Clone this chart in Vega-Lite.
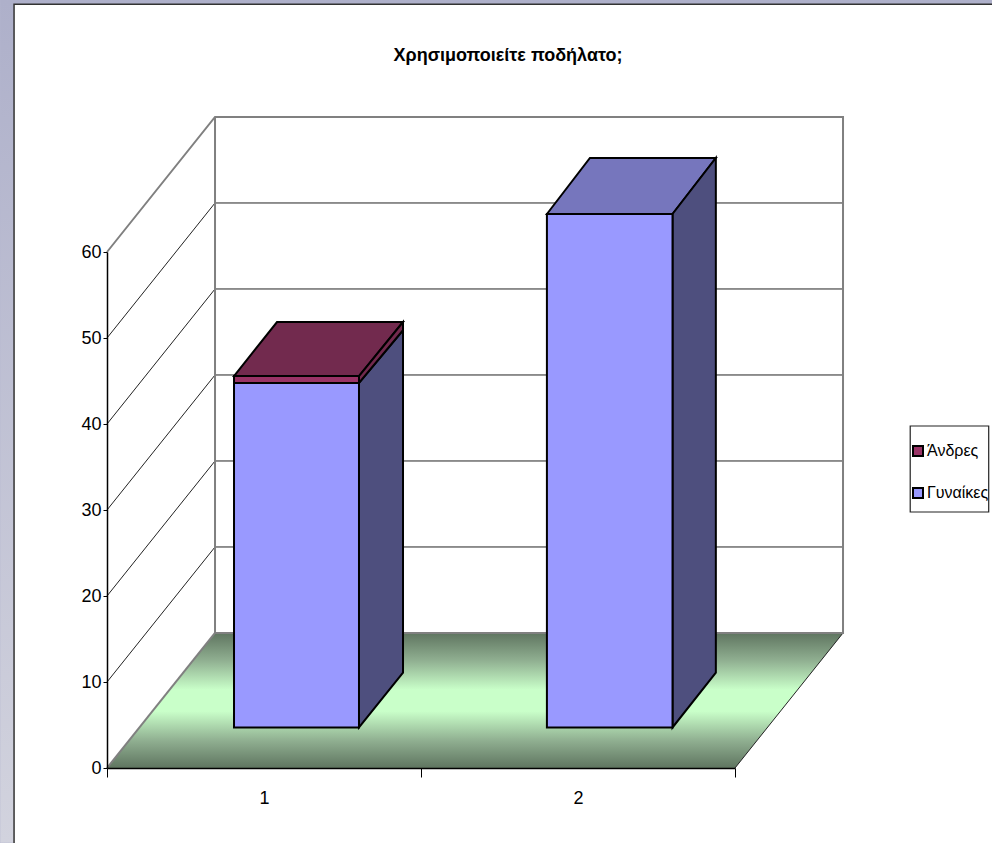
{
"$schema":"https://vega.github.io/schema/vega-lite/v6.json",
"width":628,"height":516,"autosize":"none",
"padding":{"left":107,"top":252,"right":257,"bottom":75},
"background":"#b4b6cf",
"view":{"stroke":null},
"config":{"font":"Liberation Sans"},
"title":{"text":"Χρησιμοποιείτε ποδήλατο;","font":"Liberation Sans","fontSize":18,"fontWeight":"bold","color":"#000000","anchor":"middle","dx":87,"offset":-65},
"datasets":{
"page":[{"x":-0.34,"x2":2.818,"y":-8.7,"y2":89.3}],
"panel":[{"x":-0.296,"x2":2.9,"y":88.8,"y2":-9.5}],
"legendbox":[{"x":2.558,"x2":2.808,"y":39.77,"y2":29.77}],
"floor":[{"x":0,"y":0,"y2":0},{"x":0.344,"y":15.7,"y2":0},{"x":2,"y":15.7,"y2":0},{"x":2.344,"y":15.7,"y2":15.7}],
"grid":[
{"path":"g10","seq":1,"x":0,"y":10},{"path":"g10","seq":2,"x":0.344,"y":25.7},{"path":"g10","seq":3,"x":2.344,"y":25.7},
{"path":"g20","seq":1,"x":0,"y":20},{"path":"g20","seq":2,"x":0.344,"y":35.7},{"path":"g20","seq":3,"x":2.344,"y":35.7},
{"path":"g30","seq":1,"x":0,"y":30},{"path":"g30","seq":2,"x":0.344,"y":45.7},{"path":"g30","seq":3,"x":2.344,"y":45.7},
{"path":"g40","seq":1,"x":0,"y":40},{"path":"g40","seq":2,"x":0.344,"y":55.7},{"path":"g40","seq":3,"x":2.344,"y":55.7},
{"path":"g50","seq":1,"x":0,"y":50},{"path":"g50","seq":2,"x":0.344,"y":65.7},{"path":"g50","seq":3,"x":2.344,"y":65.7},
{"path":"edge","seq":1,"x":2,"y":0},{"path":"edge","seq":2,"x":2.344,"y":15.7}
],
"frame":[
{"path":"a","seq":1,"x":0,"y":60},{"path":"a","seq":2,"x":0.344,"y":75.7},{"path":"a","seq":3,"x":2.344,"y":75.7},{"path":"a","seq":4,"x":2.344,"y":15.7},{"path":"a","seq":5,"x":0.344,"y":15.7},{"path":"a","seq":6,"x":0.344,"y":75.7},
{"path":"b","seq":1,"x":0,"y":0},{"path":"b","seq":2,"x":0.344,"y":15.7}
],
"faces":[
{"face":"top1","x":0.4045,"y":45.58,"y2":45.58},{"face":"top1","x":0.5414,"y":51.86,"y2":45.58},{"face":"top1","x":0.8025,"y":51.86,"y2":45.58},{"face":"top1","x":0.9427,"y":51.86,"y2":51.86},
{"face":"side1w","x":0.8025,"y":44.77,"y2":4.71},{"face":"side1w","x":0.9427,"y":50.9,"y2":11.1},
{"face":"side1m","x":0.8025,"y":45.58,"y2":44.77},{"face":"side1m","x":0.9427,"y":51.86,"y2":50.9},
{"face":"top2","x":1.401,"y":64.42,"y2":64.42},{"face":"top2","x":1.538,"y":70.93,"y2":64.42},{"face":"top2","x":1.801,"y":70.93,"y2":64.42},{"face":"top2","x":1.939,"y":70.93,"y2":70.93},
{"face":"side2","x":1.801,"y":64.42,"y2":4.71},{"face":"side2","x":1.939,"y":70.93,"y2":11.1}
],
"fronts":[
{"series":"Γυναίκες","x":0.4045,"x2":0.8025,"y":44.77,"y2":4.71},
{"series":"Άνδρες","x":0.4045,"x2":0.8025,"y":45.58,"y2":44.77},
{"series":"Γυναίκες","x":1.401,"x2":1.801,"y":64.42,"y2":4.71}
]
},
"layer":[
{"data":{"name":"page"},"mark":{"type":"rect","color":{"gradient":"linear","x1":0,"y1":0,"x2":0,"y2":1,"stops":[{"offset":0,"color":"#aeb0ca"},{"offset":1,"color":"#d2d3de"}]}},
 "encoding":{
  "x":{"field":"x","type":"quantitative","scale":{"domain":[0,2],"nice":false,"zero":false},
   "axis":{"title":null,"values":[0,0.5,1,1.5,2],"labelExpr":"datum.value==0.5?'1':datum.value==1.5?'2':''","grid":false,"zindex":1,"domainColor":"#000000","domainWidth":1.5,"tickColor":"#000000","tickWidth":1,"tickSize":9,"tickOpacity":{"condition":{"test":"datum.value==0.5||datum.value==1.5","value":0},"value":1},"labelFontSize":18,"labelFont":"Liberation Sans","labelColor":"#000000","labelPadding":12,"labelAngle":0,"labelFlush":false,"labelOverlap":false}},
  "x2":{"field":"x2"},
  "y":{"field":"y","type":"quantitative","scale":{"domain":[0,60],"nice":false,"zero":false},
   "axis":{"title":null,"values":[0,10,20,30,40,50,60],"grid":false,"zindex":1,"domainColor":"#000000","domainWidth":1.5,"tickColor":"#000000","tickWidth":1,"tickSize":4,"labelFontSize":18,"labelFont":"Liberation Sans","labelColor":"#000000","labelPadding":2,"labelOverlap":false,"labelFlush":false}},
  "y2":{"field":"y2"}}},
{"data":{"name":"panel"},"mark":{"type":"rect","fill":"#ffffff","stroke":"#333333","strokeWidth":1.5},
 "encoding":{"x":{"field":"x","type":"quantitative"},"x2":{"field":"x2"},"y":{"field":"y","type":"quantitative"},"y2":{"field":"y2"}}},
{"data":{"name":"floor"},"mark":{"type":"area","color":{"gradient":"linear","x1":0,"y1":0,"x2":0,"y2":1,"stops":[{"offset":0,"color":"#5f7560"},{"offset":0.2,"color":"#8fae90"},{"offset":0.42,"color":"#c9ffc9"},{"offset":0.58,"color":"#c9ffc9"},{"offset":0.8,"color":"#8fae90"},{"offset":1,"color":"#5f7560"}]}},
 "encoding":{"x":{"field":"x","type":"quantitative"},"y":{"field":"y","type":"quantitative"},"y2":{"field":"y2"}}},
{"data":{"name":"grid"},"mark":{"type":"line","color":"#222222","strokeWidth":1},
 "encoding":{"x":{"field":"x","type":"quantitative"},"y":{"field":"y","type":"quantitative"},"detail":{"field":"path"},"order":{"field":"seq"}}},
{"data":{"name":"frame"},"mark":{"type":"line","color":"#808080","strokeWidth":2},
 "encoding":{"x":{"field":"x","type":"quantitative"},"y":{"field":"y","type":"quantitative"},"detail":{"field":"path"},"order":{"field":"seq"}}},
{"data":{"name":"faces"},"mark":{"type":"area","stroke":"#000000","strokeWidth":2,"fillOpacity":1},
 "encoding":{"x":{"field":"x","type":"quantitative"},"y":{"field":"y","type":"quantitative"},"y2":{"field":"y2"},
  "fill":{"field":"face","type":"nominal","legend":null,"scale":{"domain":["top1","side1w","side1m","top2","side2"],"range":["#722a4e","#4e4f7e","#722a4e","#7676bd","#4e4f7e"]}}}},
{"data":{"name":"fronts"},"mark":{"type":"rect","stroke":"#000000","strokeWidth":2},
 "encoding":{"x":{"field":"x","type":"quantitative"},"x2":{"field":"x2"},"y":{"field":"y","type":"quantitative"},"y2":{"field":"y2"},
  "color":{"field":"series","type":"nominal","scale":{"domain":["Άνδρες","Γυναίκες"],"range":["#993366","#9999ff"]},
   "legend":{"title":null,"orient":"none","legendX":803,"legendY":191,"symbolType":"square","symbolSize":100,"symbolStrokeColor":"#000000","symbolStrokeWidth":2,"labelFontSize":16,"labelFont":"Liberation Sans","labelColor":"#000000","labelOffset":1,"rowPadding":24,"padding":0}}}},
{"data":{"name":"legendbox"},"mark":{"type":"rect","fill":null,"stroke":"#222222","strokeWidth":1.2},
 "encoding":{"x":{"field":"x","type":"quantitative"},"x2":{"field":"x2"},"y":{"field":"y","type":"quantitative"},"y2":{"field":"y2"}}}
]
}
